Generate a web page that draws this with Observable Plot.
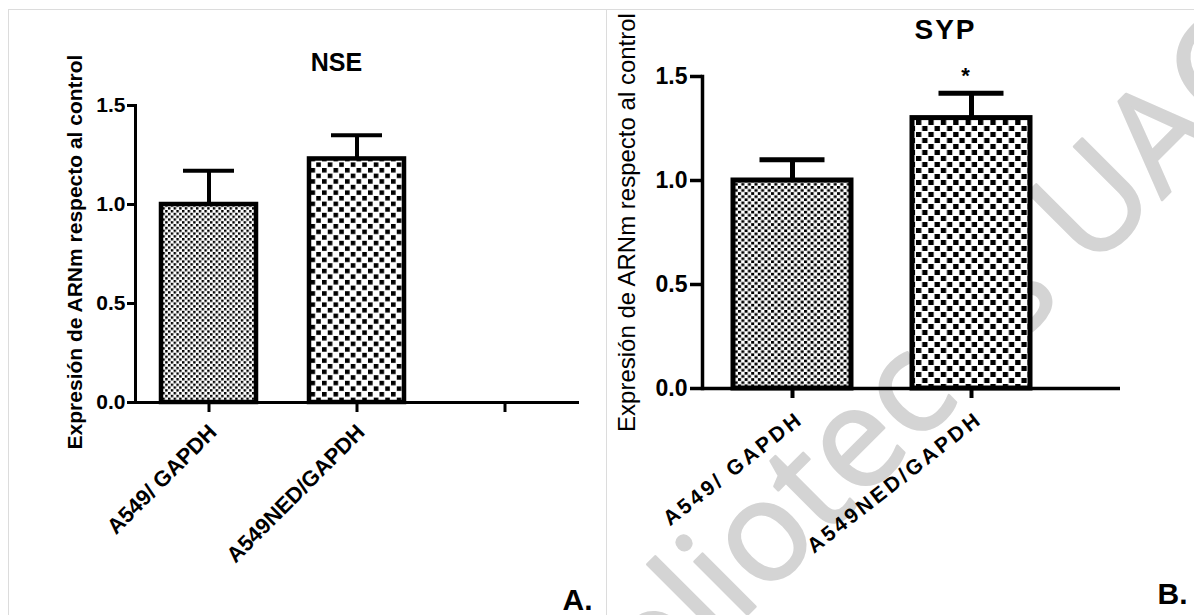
<!DOCTYPE html>
<html>
<head>
<meta charset="utf-8">
<script src="https://cdn.jsdelivr.net/npm/d3@7"></script>
<script src="https://cdn.jsdelivr.net/npm/@observablehq/plot@0.6"></script>
<style>
  html, body { margin: 0; padding: 0; background: #fff; overflow: hidden; width: 1194px; height: 615px; }
  #wrap { position: relative; width: 1194px; height: 615px; overflow: hidden; }
  .panel { position: absolute; top: 0; }
  .panel svg { max-width: none; }
  .line { position: absolute; background: #dcdcdc; }
</style>
</head>
<body>
<div id="wrap">
  <div class="panel" id="pa" style="left:0;width:606px;height:615px"></div>
  <div class="panel" id="pb" style="left:606px;width:588px;height:615px"></div>
  <div class="line" style="left:8px;top:9px;width:1186px;height:1px"></div>
  <div class="line" style="left:8px;top:9px;width:1px;height:606px"></div>
  <div class="line" style="left:606px;top:9px;width:1px;height:606px"></div>
</div>
<script>
// ---- data ----
const categoriesA = ["A549/ GAPDH", "A549NED/GAPDH", ""];
const valuesA = [1.00, 1.23];
const errorsA = [0.17, 0.12];
const categoriesB = ["A549/ GAPDH", "A549NED/GAPDH"];
const valuesB = [1.00, 1.30];
const errorsB = [0.10, 0.12];
const significanceB = ["", "*"];
const yTicks = [0, 0.5, 1.0, 1.5];
const titles = ["NSE", "SYP"];
const yLabel = "Expresión de ARNm respecto al control";
const panelLabels = ["A.", "B."];
const watermark = "Bibliotecas UACh";

const sans = "'Liberation Sans', Arial, Helvetica, sans-serif";

function patternDefs(specs) {
  return () => {
    const defs = d3.create("svg:defs");
    for (const p of specs) {
      const pat = defs.append("pattern")
        .attr("id", p.id)
        .attr("patternUnits", "userSpaceOnUse")
        .attr("width", 2 * p.cw)
        .attr("height", 2 * p.ch);
      pat.append("rect").attr("width", 2 * p.cw).attr("height", 2 * p.ch).attr("fill", "white");
      pat.append("rect").attr("x", 0).attr("y", 0).attr("width", p.sw).attr("height", p.sh).attr("fill", "black");
      pat.append("rect").attr("x", p.cw).attr("y", p.ch).attr("width", p.sw).attr("height", p.sh).attr("fill", "black");
    }
    return defs.node();
  };
}

const dataA = valuesA.map((v, i) => ({cat: categoriesA[i], v, e: errorsA[i], fill: `url(#pA${i + 1})`}));
const dataB = valuesB.map((v, i) => ({cat: categoriesB[i], v, e: errorsB[i], sig: significanceB[i], fill: `url(#pB${i + 1})`}));

const plotA = Plot.plot({
  width: 606, height: 615,
  marginLeft: 135, marginRight: 27, marginTop: 105, marginBottom: 213,
  style: {background: "transparent", fontFamily: sans, overflow: "visible", color: "black"},
  x: {type: "band", domain: categoriesA, paddingInner: 0.355, paddingOuter: 0.1775, axis: null, label: null},
  y: {domain: [0, 1.5], axis: null, label: null},
  color: {type: "identity"},
  marks: [
    patternDefs([
      {id: "pA1", cw: 2.8, ch: 2.8, sw: 2.4, sh: 2.4},
      {id: "pA2", cw: 5.75, ch: 5.6, sw: 4.6, sh: 4.5}
    ]),
    Plot.barY(dataA, {x: "cat", y: "v", fill: "fill", stroke: "black", strokeWidth: 4.5}),
    Plot.ruleX(dataA, {x: "cat", y1: "v", y2: d => d.v + d.e, stroke: "black", strokeWidth: 4}),
    Plot.tickY(dataA, {x: "cat", y: d => d.v + d.e, stroke: "black", strokeWidth: 4, insetLeft: 22, insetRight: 22}),
    Plot.ruleY([0], {stroke: "black", strokeWidth: 3}),
    Plot.frame({anchor: "left", stroke: "black", strokeWidth: 3}),
    Plot.axisY({ticks: yTicks, tickFormat: d3.format(".1f"), tickSize: 8, tickPadding: 2, fontSize: 21, fontWeight: "bold", strokeWidth: 3, label: null}),
    Plot.axisX({tickSize: 10, tickFormat: () => "", strokeWidth: 3, label: null}),
    Plot.text(categoriesA, {x: d => d, text: d => d, frameAnchor: "bottom", dx: 9, dy: 31, rotate: -45, textAnchor: "end", fontSize: 22, fontWeight: "bold"}),
    Plot.text([titles[0]], {text: d => d, frameAnchor: "top", dx: -21, dy: -35, lineAnchor: "bottom", fontSize: 25, fontWeight: "bold"}),
    Plot.text([yLabel], {text: d => d, frameAnchor: "left", rotate: -90, dx: -60, dy: -2, textAnchor: "middle", fontSize: 21, fontWeight: "bold"}),
    Plot.text([panelLabels[0]], {text: d => d, frameAnchor: "bottom-right", dx: -17, dy: 207, textAnchor: "start", lineAnchor: "bottom", fontSize: 30, fontWeight: "bold"})
  ]
});

const plotB = Plot.plot({
  width: 588, height: 615,
  marginLeft: 96, marginRight: 74, marginTop: 76, marginBottom: 227,
  style: {background: "transparent", fontFamily: sans, overflow: "visible", color: "black"},
  x: {type: "band", domain: categoriesB, range: [96, 454], paddingInner: 0.341, paddingOuter: 0.1705, axis: null, label: null},
  y: {domain: [0, 1.5], axis: null, label: null},
  color: {type: "identity"},
  marks: [
    patternDefs([
      {id: "pB1", cw: 3.3, ch: 3.1, sw: 3.0, sh: 2.7},
      {id: "pB2", cw: 6.2, ch: 6.0, sw: 5.3, sh: 5.0}
    ]),
    Plot.text([watermark], {text: d => d, frameAnchor: "top-left", dx: -138, dy: 721, rotate: -45, textAnchor: "start", lineAnchor: "bottom", fontSize: 140, fill: "#d4d4d4", stroke: "#d4d4d4", strokeWidth: 2.5, fontFamily: "'Open Sans', sans-serif"}),
    Plot.barY(dataB, {x: "cat", y: "v", fill: "fill", stroke: "black", strokeWidth: 5}),
    Plot.ruleX(dataB, {x: "cat", y1: "v", y2: d => d.v + d.e, stroke: "black", strokeWidth: 5}),
    Plot.tickY(dataB, {x: "cat", y: d => d.v + d.e, stroke: "black", strokeWidth: 5, insetLeft: 26.5, insetRight: 26.5}),
    Plot.text(dataB, {x: "cat", y: d => d.v + d.e, text: "sig", dx: -6, dy: -17, fontSize: 22, fontWeight: "bold"}),
    Plot.ruleY([0], {stroke: "black", strokeWidth: 3.5}),
    Plot.frame({anchor: "left", stroke: "black", strokeWidth: 3.5}),
    Plot.axisY({ticks: yTicks, tickFormat: d3.format(".1f"), tickSize: 12, tickPadding: 3, fontSize: 23, fontWeight: "bold", strokeWidth: 3.5, label: null}),
    Plot.axisX({tickSize: 10, tickFormat: () => "", strokeWidth: 4, label: null}),
    Plot.text(categoriesB, {x: d => d, text: d => d, frameAnchor: "bottom", dx: 12, dy: 33, rotate: -38, textAnchor: "end", fontSize: 21, fontWeight: "bold"}),
    Plot.text([titles[1]], {text: d => d, frameAnchor: "top", dx: 34, dy: -38, lineAnchor: "bottom", fontSize: 28, fontWeight: "bold"}),
    Plot.text([yLabel], {text: d => d, frameAnchor: "left", rotate: -90, dx: -75.5, dy: -10, textAnchor: "middle", fontSize: 24}),
    Plot.text([panelLabels[1]], {text: d => d, frameAnchor: "bottom-right", dx: 37, dy: 215, textAnchor: "start", lineAnchor: "bottom", fontSize: 30, fontWeight: "bold"})
  ]
});

d3.select(plotB).selectAll("text").each(function () {
  const t = this.textContent;
  if (categoriesB.includes(t)) this.setAttribute("letter-spacing", "3");
  if (t === titles[1]) this.setAttribute("letter-spacing", "2");
});

document.getElementById("pa").appendChild(plotA);
document.getElementById("pb").appendChild(plotB);
</script>
</body>
</html>
